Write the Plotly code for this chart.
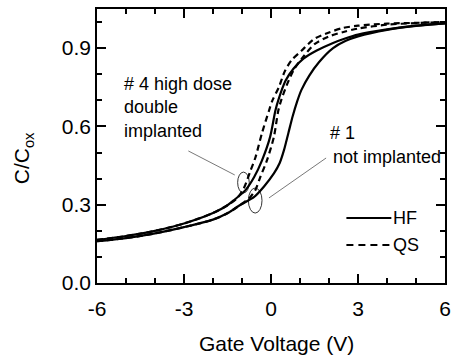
import plotly.graph_objects as go

# ---- data ----
hf4_v = [-6, -5, -4, -3, -2, -1.5, -1.25, -0.88, -0.58, -0.31, -0.03, 0.15, 0.25, 0.5, 0.78, 1.12, 1.56, 2.14, 2.58, 3, 4, 5, 6]
hf4_c = [0.165, 0.18, 0.2, 0.228, 0.268, 0.298, 0.32, 0.356, 0.406, 0.47, 0.56, 0.66, 0.70, 0.775, 0.822, 0.86, 0.89, 0.92, 0.938, 0.952, 0.972, 0.986, 0.995]

qs4_v = [-6, -5, -4, -3, -2, -1.5, -1.2, -0.95, -0.71, -0.54, -0.31, -0.07, 0.05, 0.27, 0.47, 0.71, 1.05, 1.49, 2.0, 2.47, 3, 4, 5, 6]
qs4_c = [0.165, 0.18, 0.2, 0.228, 0.268, 0.298, 0.322, 0.36, 0.43, 0.48, 0.575, 0.66, 0.70, 0.75, 0.81, 0.854, 0.89, 0.935, 0.96, 0.977, 0.986, 0.994, 0.997, 1.0]

hf1_v = [-6, -5, -4, -3, -2, -1.49, -1.05, -0.58, -0.24, 0.1, 0.3, 0.45, 0.6, 0.75, 0.9, 1.05, 1.32, 1.66, 2.14, 2.58, 3, 4, 5, 6]
hf1_c = [0.16, 0.172, 0.19, 0.214, 0.243, 0.268, 0.3, 0.33, 0.37, 0.42, 0.46, 0.51, 0.575, 0.64, 0.695, 0.74, 0.795, 0.847, 0.9, 0.928, 0.945, 0.97, 0.985, 0.995]

qs1_v = [-6, -5, -4, -3, -2, -1.49, -1.05, -0.75, -0.54, -0.37, -0.14, 0.1, 0.25, 0.35, 0.55, 0.8, 1.1, 1.5, 2.0, 2.5, 3, 4, 5, 6]
qs1_c = [0.16, 0.172, 0.19, 0.214, 0.243, 0.268, 0.3, 0.325, 0.356, 0.406, 0.47, 0.56, 0.66, 0.70, 0.76, 0.82, 0.865, 0.915, 0.945, 0.962, 0.975, 0.99, 0.996, 1.0]

x_ticks = [-6, -3, 0, 3, 6]
x_tick_text = ["-6", "-3", "0", "3", "6"]
y_ticks = [0.0, 0.3, 0.6, 0.9]
y_tick_text = ["0.0", "0.3", "0.6", "0.9"]

FONT = "Liberation Sans, Arial, Helvetica, sans-serif"

fig = go.Figure()
for v, c, dash in [(hf1_v, hf1_c, "solid"), (qs1_v, qs1_c, "dash"),
                   (hf4_v, hf4_c, "solid"), (qs4_v, qs4_c, "dash")]:
    fig.add_trace(go.Scatter(x=v, y=c, mode="lines",
                             line=dict(color="black", width=2.2, dash="solid" if dash == "solid" else "6px,4px",
                                       shape="spline", smoothing=0.8),
                             showlegend=False, hoverinfo="skip"))

axis_common = dict(showgrid=False, zeroline=False, showline=True, linecolor="black",
                   linewidth=1.5, mirror="ticks", ticks="inside", ticklen=9, tickwidth=1.5,
                   tickcolor="black", tickfont=dict(family=FONT, size=21, color="black"))

fig.update_xaxes(range=[-6, 6], tickvals=x_ticks, ticktext=x_tick_text,
                 minor=dict(dtick=1, ticks="inside", ticklen=5, tickwidth=1.5, tickcolor="black"),
                 ticklabelstandoff=6, **axis_common)
fig.update_yaxes(range=[0, 1.05], tickvals=y_ticks, ticktext=y_tick_text,
                 minor=dict(dtick=0.1, ticks="inside", ticklen=5, tickwidth=1.5, tickcolor="black"),
                 **axis_common)

# ellipses marking curve groups
fig.add_shape(type="circle", xref="x", yref="y", x0=-1.15, x1=-0.75, y0=0.345, y1=0.425,
              line=dict(color="black", width=0.8))
fig.add_shape(type="circle", xref="x", yref="y", x0=-0.78, x1=-0.31, y0=0.268, y1=0.364,
              line=dict(color="black", width=0.8))
# pointer lines
fig.add_shape(type="line", xref="x", yref="y", x0=-2.85, y0=0.506, x1=-1.25, y1=0.414,
              line=dict(color="#555555", width=0.8))
fig.add_shape(type="line", xref="x", yref="y", x0=1.9, y0=0.479, x1=-0.07, y1=0.326,
              line=dict(color="#555555", width=0.8))

# labels
fig.add_annotation(x=-5.15, y=0.674, xref="x", yref="y", xanchor="left", yanchor="middle",
                   text="# 4 high dose<br>double<br>implanted", align="left", showarrow=False,
                   font=dict(family=FONT, size=18, color="black"))
fig.add_annotation(x=1.97, y=0.575, xref="x", yref="y", xanchor="left", yanchor="middle",
                   text="# 1", align="left", showarrow=False,
                   font=dict(family=FONT, size=18, color="black"))
fig.add_annotation(x=2.07, y=0.483, xref="x", yref="y", xanchor="left", yanchor="middle",
                   text="not implanted", align="left", showarrow=False,
                   font=dict(family=FONT, size=18, color="black"))

# legend (manual)
fig.add_shape(type="line", xref="x", yref="y", x0=2.6, x1=4.15, y0=0.249, y1=0.249,
              line=dict(color="black", width=2))
fig.add_shape(type="line", xref="x", yref="y", x0=2.6, x1=4.15, y0=0.146, y1=0.146,
              line=dict(color="black", width=2, dash="7px,5px"))
fig.add_annotation(x=4.15, y=0.249, xref="x", yref="y", xanchor="left", yanchor="middle",
                   text="HF", showarrow=False, font=dict(family=FONT, size=18, color="black"))
fig.add_annotation(x=4.15, y=0.146, xref="x", yref="y", xanchor="left", yanchor="middle",
                   text="QS", showarrow=False, font=dict(family=FONT, size=18, color="black"))

# axis titles
fig.add_annotation(x=(280 - 97) / 354, y=-(343 - 283) / 274, xref="paper", yref="paper",
                   text="Gate Voltage (V)", showarrow=False, xanchor="center", yanchor="middle",
                   font=dict(family=FONT, size=21, color="black"))
fig.add_annotation(x=-(97 - 22) / 354, y=(283 - 158) / 274, xref="paper", yref="paper",
                   text="C/C<sub>ox</sub>", textangle=-90, showarrow=False,
                   xanchor="center", yanchor="middle",
                   font=dict(family=FONT, size=21, color="black"))

fig.update_layout(width=456, height=355, margin=dict(l=97, r=5, t=9, b=72),
                  plot_bgcolor="white", paper_bgcolor="white")

fig.write_html("out.html")
